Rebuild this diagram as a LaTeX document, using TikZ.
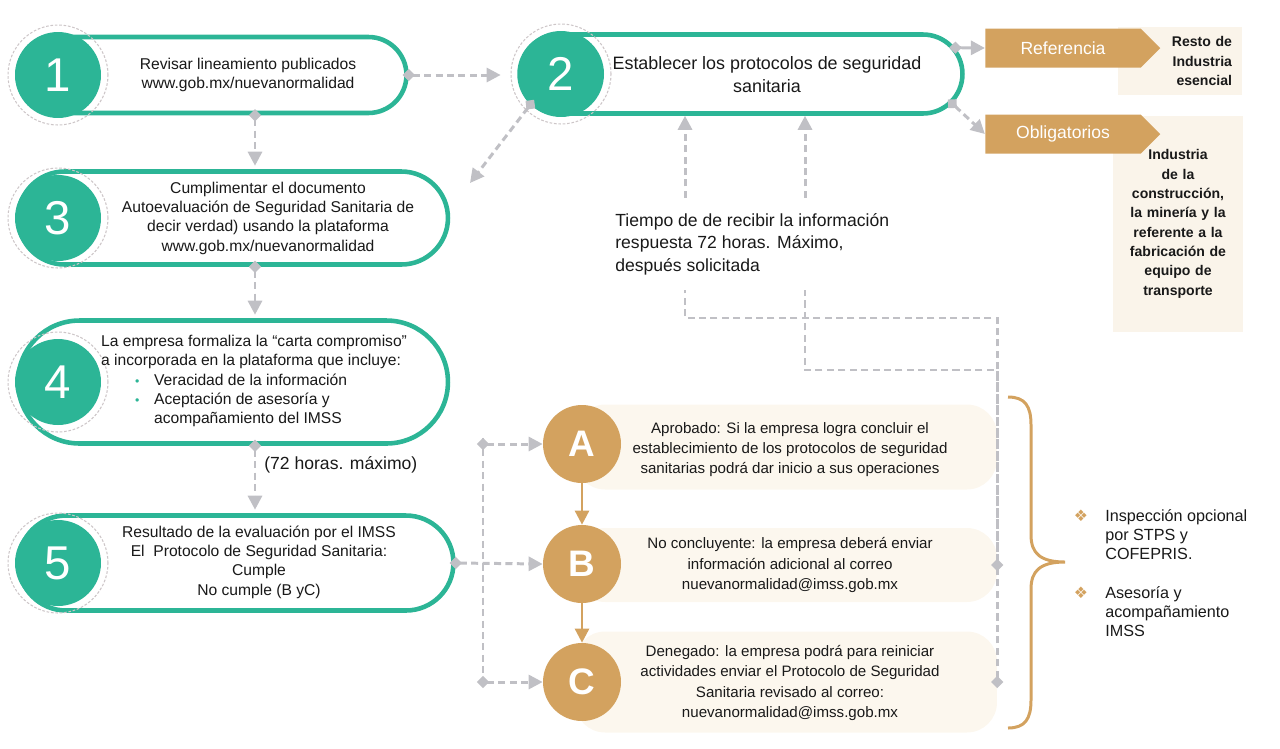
\documentclass[tikz,border=0pt]{standalone}
\usepackage{fontspec}
\setmainfont{Liberation Sans}
\newfontfamily\symfont{DejaVu Sans}
\usetikzlibrary{arrows.meta,shapes.misc,shapes.symbols,calc}
\definecolor{tealc}{RGB}{44,181,150}
\definecolor{tanc}{RGB}{211,162,95}
\definecolor{beigec}{RGB}{250,244,234}
\definecolor{creamc}{RGB}{252,247,238}
\definecolor{greyc}{RGB}{192,192,197}
\definecolor{ringc}{RGB}{205,198,200}
\def\stepfont{\fontsize{8.9}{11}\selectfont}
\def\bul{\makebox[1.06cm][l]{\hspace{0.68cm}\textcolor{tealc}{\scriptsize\textbullet}}}
\tikzset{
	pill/.style={rounded rectangle, draw=tealc, line width=2.6pt, fill=white, inner sep=0pt},
	numcirc/.style={circle, fill=tealc, text=white, minimum size=1.72cm, inner sep=0pt, font=\fontsize{27}{27}\selectfont},
	ring/.style={draw=ringc, line width=0.6pt, dash pattern=on 1.5pt off 1pt},
	steptext/.style={align=center, font=\stepfont, text=black!90, inner sep=1pt},
	lettercirc/.style={circle, fill=tanc, text=white, minimum size=1.56cm, inner sep=0pt, font=\fontsize{21}{21}\selectfont\bfseries},
	resbox/.style={fill=creamc, rounded corners=0.6cm, inner sep=0pt},
	ribbon/.style={signal, signal to=east, signal pointer angle=90, fill=tanc, text=white, minimum width=3.5cm, minimum height=0.78cm, inner sep=0pt, font=\fontsize{10}{12}\selectfont},
	infobox/.style={fill=beigec, inner sep=0pt, text=black!90, font=\fontsize{8}{11}\selectfont\bfseries},
	flow/.style={draw=greyc, line width=1.7pt, dash pattern=on 4pt off 2.5pt, shorten <=-3.5pt, {Turned Square[length=7pt,width=7pt]}-{Triangle[length=8pt,width=8pt]}},
	flowline/.style={draw=greyc, line width=1.4pt, dash pattern=on 4pt off 2.5pt, shorten <=-3.5pt, {Turned Square[length=7pt,width=7pt]}-},
	abcarrow/.style={draw=tanc, line width=1.5pt, -{Triangle[length=8pt,width=8pt]}},
	lbl/.style={font=\fontsize{10}{12.8}\selectfont, text=black!90, inner sep=0pt}
}

\begin{document}
\begin{tikzpicture}[x=0.02cm, y=-0.02cm]
			%%%%% START %%%%%
			\useasboundingbox (0,0) rectangle (1280,748);
			
			\node[pill, minimum width=7.78cm, minimum height=1.52cm] (p1) at (212,75) {};
			\node[pill, minimum width=8.86cm, minimum height=1.58cm] (p2) at (741,74) {};
			\node[pill, minimum width=8.6cm, minimum height=1.86cm] (p3) at (233,218) {};
			\node[pill, minimum width=8.6cm, minimum height=2.46cm] (p4) at (233,382) {};
			\node[pill, minimum width=8.7cm, minimum height=1.9cm] (p5) at (236,563) {};
			
			\draw[ring] (58,75) circle[radius=1cm];
			\draw[ring] (561,74) circle[radius=1cm];
			\draw[ring] (58,218) circle[radius=1cm];
			\draw[ring] (58,382) circle[radius=1cm];
			\draw[ring] (58,563) circle[radius=1cm];
			
			\node[numcirc] (n1) at (58,75) {1};
			\node[numcirc] (n2) at (561,74) {2};
			\node[numcirc] (n3) at (58,218) {3};
			\node[numcirc] (n4) at (58,382) {4};
			\node[numcirc] (n5) at (58,563) {5};
			
			\node[steptext] (t1) at (248,75) {Revisar lineamiento publicados\\www.gob.mx/nuevanormalidad};
			\node[steptext, font=\fontsize{10.2}{13}\selectfont] (t2) at (767,75) {Establecer los protocolos de seguridad\\sanitaria};
			\node[steptext] (t3) at (268,218) {Cumplimentar el documento\\Autoevaluación de Seguridad Sanitaria de\\decir verdad) usando la plataforma\\www.gob.mx/nuevanormalidad};
			\node[steptext, align=left, anchor=west] (t4) at (99,381) {La empresa formaliza la “carta compromiso”\\a incorporada en la plataforma que incluye:\\\bul Veracidad de la información\\\bul Aceptación de asesoría y\\\hspace*{1.06cm}acompañamiento del IMSS};
			\node[steptext] (t5) at (259,562) {Resultado de la evaluación por el IMSS\\El~ Protocolo de Seguridad Sanitaria:\\Cumple\\No cumple (B yC)};
			
			% referencia / obligatorios
			\node[infobox, minimum width=2.48cm, minimum height=1.36cm, text width=2.08cm, align=right] (bRef) at (1180,61) {Resto de\\Industria\\esencial};
			\node[infobox, minimum width=2.6cm, minimum height=4.34cm, text width=2.5cm, align=center] (bObl) at (1178,224) {Industria\\de la\\construcción,\\la minería y la\\referente a la\\fabricación de\\equipo de\\transporte};
			\node[ribbon] (rRef) at (1063,48) {Referencia};
			\node[ribbon] (rObl) at (1063,134) {Obligatorios};
			
			\draw[draw=greyc, line width=1.7pt, shorten <=-3.5pt, {Turned Square[length=7pt,width=7pt]}-{Triangle[length=8pt,width=8pt]}] (p2.7) -- (rRef.west);
			\draw[flow] (p2.-8) -- (rObl.west);
			
			% a, b, c
			\node[resbox, minimum width=8.44cm, minimum height=1.7cm] (bA) at (786,447) {};
			\node[resbox, minimum width=8.44cm, minimum height=1.48cm] (bB) at (786,565) {};
			\node[resbox, minimum width=8.44cm, minimum height=2.02cm] (bC) at (786,682) {};
			
			\node[lettercirc] (nA) at (582,444) {A};
			\node[lettercirc] (nB) at (582,564) {B};
			\node[lettercirc] (nC) at (582,682) {C};
			
			\draw[abcarrow] (nA.south) -- (nB.north);
			\draw[abcarrow] (nB.south) -- (nC.north);
			
			\node[steptext, font=\fontsize{8.6}{11.4}\selectfont] (tA) at (790,450) {Aprobado: Si la empresa logra concluir el\\establecimiento de los protocolos de seguridad\\sanitarias podrá dar inicio a sus operaciones};
			\node[steptext, font=\fontsize{8.6}{11.4}\selectfont] (tB) at (790,565) {No concluyente: la empresa deberá enviar\\información adicional al correo\\nuevanormalidad@imss.gob.mx};
			\node[steptext, font=\fontsize{8.6}{11.4}\selectfont] (tC) at (790,683) {Denegado: la empresa podrá para reiniciar\\actividades enviar el Protocolo de Seguridad\\Sanitaria revisado al correo:\\nuevanormalidad@imss.gob.mx};
			
			% connectors
			\coordinate (col) at (255,0);
			\coordinate (bus) at (483,563);
			\coordinate (e23) at (470,183);
			
			\draw[flow, shorten >=0.34cm] (p1.east) -- (n2.west |- p1.east);
			\draw[flow, shorten >=2pt] (col |- p1.south) -- (col |- p3.north);
			\draw[flow] (n2.south west) -- (e23);
			\draw[flow, shorten >=2pt] (col |- p3.south) -- (col |- p4.north);
			\draw[flow, shorten >=2pt] (col |- p4.south) -- (col |- p5.north);
			\node[lbl, anchor=west] (h72) at (264,465) {(72 horas. máximo)};
			
			\draw[flow] (p5.east) -- (nB.west);
			\draw[flow] (bus |- nA) -- (nA.west);
			\draw[flow] (bus |- nC) -- (nC.west);
			\draw[flowline, -] (bus |- nA) -- (bus |- nC);
			
			\node[lbl, align=left, anchor=west, inner ysep=0.3cm] (tq) at (615,244) {Tiempo de de recibir la información\\respuesta 72 horas. Máximo,\\después solicitada};
			\coordinate (qA) at (685,318);
			\coordinate (qB) at (805,370);
			
			\draw[flowline] (bC.east) -- (bC.east |- qA) -- (qA) -- (qA |- tq.south);
			\draw[flowline] (bB.east) -- (bB.east |- qB) -- (qB) -- (qB |- tq.south);
			\draw[flow, shorten <=0pt, -{Triangle[length=8pt,width=8pt]}] (qA |- tq.north) -- (qA |- p2.south);
			\draw[flow, shorten <=0pt, -{Triangle[length=8pt,width=8pt]}] (qB |- tq.north) -- (qB |- p2.south);
			
			% brace and notes
			\draw[draw=tanc, line width=1.7pt] (1008,397) .. controls (1025,397) and (1031,406) .. (1031,425) -- (1031,535) .. controls (1031,553) and (1040,562) .. (1065,562) .. controls (1040,562) and (1031,571) .. (1031,589) -- (1031,700) .. controls (1031,719) and (1025,728) .. (1008,728);
			
			\node[text=tanc, font=\symfont\fontsize{9}{9}\selectfont] (d1) at (1081,516) {❖};
			\node[text=tanc, font=\symfont\fontsize{9}{9}\selectfont] (d2) at (1081,593) {❖};
			\node[lbl, font=\fontsize{9.2}{10.8}\selectfont, align=left, anchor=north west] (k1) at (1105,509) {Inspección opcional\\por STPS y\\COFEPRIS.};
			\node[lbl, font=\fontsize{9.2}{10.8}\selectfont, align=left, anchor=north west] (k2) at (1105,586) {Asesoría y\\acompañamiento\\IMSS};
			
			%%%%% END %%%%%
		\end{tikzpicture}
\end{document}
